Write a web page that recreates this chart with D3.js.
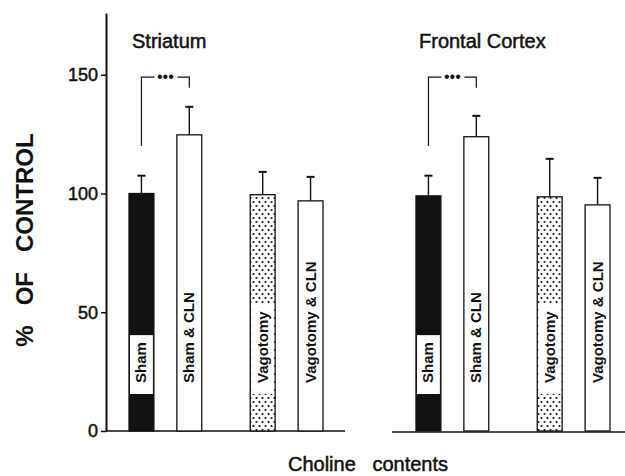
<!DOCTYPE html>
<html>
<head>
<meta charset="utf-8">
<script src="https://cdn.jsdelivr.net/npm/d3@7"></script>
<style>
body { margin: 0; background: #fff; }
text { font-family: "Liberation Sans", Arial, Helvetica, sans-serif; fill: #111; }
</style>
</head>
<body>
<svg id="chart" width="625" height="476"></svg>
<script>
var regions = ['Striatum', 'Frontal Cortex'];
var treatments = ['Sham', 'Vagotomy'];
var groups = ['Sham', 'Sham & CLN', 'Vagotomy', 'Vagotomy & CLN'];
var striatumMeans = [100, 124.7, 99.5, 96.9];
var striatumErrors = [7.5, 11.8, 9.6, 10.1];
var cortexMeans = [99.0, 123.9, 98.6, 95.2];
var cortexErrors = [8.5, 8.8, 16.0, 11.4];
var yTicks = [0, 50, 100, 150];
var sigLabel = '\u2022\u2022\u2022';

var ink = '#111';
var svg = d3.select('#chart');

// dotted fill used for the vagotomy bars
var pattern = svg.append('defs').append('pattern')
    .attr('id', 'dots')
    .attr('patternUnits', 'userSpaceOnUse')
    .attr('width', 6)
    .attr('height', 8);
pattern.append('rect').attr('width', 6).attr('height', 8).attr('fill', '#fff');
pattern.append('circle').attr('cx', 1.5).attr('cy', 2).attr('r', 1.1).attr('fill', ink);
pattern.append('circle').attr('cx', 4.5).attr('cy', 6).attr('r', 1.1).attr('fill', ink);

var y = d3.scaleLinear().domain([0, 176]).range([431, 13]);
var panel = d3.scaleBand().domain(regions).range([106, 680]);
var pair = d3.scaleBand().domain(treatments).range([23, 217]).paddingInner(0.4);
var inner = d3.scaleBand().domain([0, 1]).range([0, pair.bandwidth()]).paddingInner(0.48);

var rows = [];
regions.forEach(function(region, r) {
    var means = r === 0 ? striatumMeans : cortexMeans;
    var errors = r === 0 ? striatumErrors : cortexErrors;
    groups.forEach(function(group, i) {
        rows.push({
            region: region,
            group: group,
            treatment: treatments[Math.floor(i / 2)],
            withDrug: i % 2,
            mean: means[i],
            error: errors[i]
        });
    });
});

function barX(d) {
    return panel(d.region) + pair(d.treatment) + inner(d.withDrug);
}

function fillFor(d) {
    if (d.withDrug) {
        return '#fff';
    }
    return d.treatment === 'Sham' ? ink : 'url(#dots)';
}

// scanned print looks heavier than plain regular type
function heavy(sel, w) {
    sel.attr('stroke', ink).attr('stroke-width', w).attr('paint-order', 'stroke');
}

// y axis
var yAxis = svg.append('g')
    .attr('transform', 'translate(106,0)')
    .call(d3.axisLeft(y).tickValues(yTicks).tickSize(5).tickSizeOuter(0).tickPadding(3));
yAxis.select('.domain').attr('stroke', ink).attr('stroke-width', 2);
yAxis.selectAll('.tick line').attr('stroke', ink).attr('stroke-width', 1.5);
yAxis.selectAll('.tick text')
    .attr('font-size', 18)
    .attr('font-family', '"Liberation Sans", Arial, sans-serif')
    .attr('fill', ink)
    .call(heavy, 0.5);

// baselines of the two panels
svg.selectAll('line.base')
    .data(regions)
    .enter().append('line')
    .attr('class', 'base')
    .attr('x1', function(d, i) { return panel(d) - i; })
    .attr('x2', function(d) { return panel(d) + 239; })
    .attr('y1', function(d, i) { return y(0) + i; })
    .attr('y2', function(d, i) { return y(0) + i; })
    .attr('stroke', ink)
    .attr('stroke-width', 1.6);

// panel titles
svg.selectAll('text.title')
    .data(regions)
    .enter().append('text')
    .attr('class', 'title')
    .attr('x', function(d) { return panel(d) + pair('Sham') + 3; })
    .attr('y', 48)
    .attr('font-size', 20)
    .text(function(d) { return d; })
    .call(heavy, 0.5);

// error bars
var err = svg.selectAll('g.err')
    .data(rows)
    .enter().append('g')
    .attr('class', 'err');
err.append('line')
    .attr('x1', function(d) { return barX(d) + inner.bandwidth() / 2; })
    .attr('x2', function(d) { return barX(d) + inner.bandwidth() / 2; })
    .attr('y1', function(d) { return y(d.mean); })
    .attr('y2', function(d) { return y(d.mean + d.error); })
    .attr('stroke', ink)
    .attr('stroke-width', 1.4);
err.append('line')
    .attr('x1', function(d) { return barX(d) + inner.bandwidth() / 2 - 4; })
    .attr('x2', function(d) { return barX(d) + inner.bandwidth() / 2 + 4; })
    .attr('y1', function(d) { return y(d.mean + d.error); })
    .attr('y2', function(d) { return y(d.mean + d.error); })
    .attr('stroke', ink)
    .attr('stroke-width', 2);

// bars
svg.selectAll('rect.bar')
    .data(rows)
    .enter().append('rect')
    .attr('class', 'bar')
    .attr('x', barX)
    .attr('width', inner.bandwidth())
    .attr('y', function(d) { return y(d.mean); })
    .attr('height', function(d) { return y(0) - y(d.mean); })
    .attr('fill', fillFor)
    .attr('stroke', ink)
    .attr('stroke-width', 1.3);

// rotated labels inside the bars, with a white box on filled bars
var labelBottom = 383;
var labels = svg.selectAll('g.label')
    .data(rows)
    .enter().append('g')
    .attr('class', 'label');
labels.append('rect');
labels.append('text')
    .attr('transform', function(d) {
        return 'translate(' + (barX(d) + inner.bandwidth() / 2 + 5) + ',' + labelBottom + ') rotate(-90)';
    })
    .attr('font-size', 15)
    .attr('font-weight', 'bold')
    .text(function(d) { return d.group; });
labels.each(function(d) {
    var g = d3.select(this);
    var len = g.select('text').node().getComputedTextLength();
    if (d.withDrug) {
        g.select('rect').remove();
        return;
    }
    g.select('rect')
        .attr('x', barX(d) + 1)
        .attr('width', inner.bandwidth() - 2)
        .attr('y', labelBottom - len - 7)
        .attr('height', len + 18)
        .attr('fill', '#fff');
});

// significance brackets between Sham and Sham & CLN
regions.forEach(function(region) {
    var x1 = panel(region) + pair('Sham') + inner(0) + inner.bandwidth() / 2;
    var x2 = panel(region) + pair('Sham') + inner(1) + inner.bandwidth() / 2;
    var mid = (x1 + x2) / 2;
    var top = y(149);
    svg.append('path')
        .attr('d', 'M' + x1 + ',' + y(120) + 'V' + top + 'H' + (mid - 11) +
            'M' + (mid + 12) + ',' + top + 'H' + x2 + 'V' + y(144.5))
        .attr('fill', 'none')
        .attr('stroke', ink)
        .attr('stroke-width', 1.2);
    svg.append('text')
        .attr('x', mid)
        .attr('y', top + 5)
        .attr('text-anchor', 'middle')
        .attr('font-size', 16)
        .text(sigLabel);
});

// axis titles
svg.append('text')
    .attr('transform', 'translate(33,240) rotate(-90)')
    .attr('text-anchor', 'middle')
    .attr('font-size', 24)
    .attr('font-weight', 'bold')
    .style('white-space', 'pre')
    .text('%   OF   CONTROL');

svg.append('text')
    .attr('x', 368)
    .attr('y', 471)
    .attr('text-anchor', 'middle')
    .attr('font-size', 20)
    .style('white-space', 'pre')
    .text('Choline   contents')
    .call(heavy, 0.5);
</script>
</body>
</html>
